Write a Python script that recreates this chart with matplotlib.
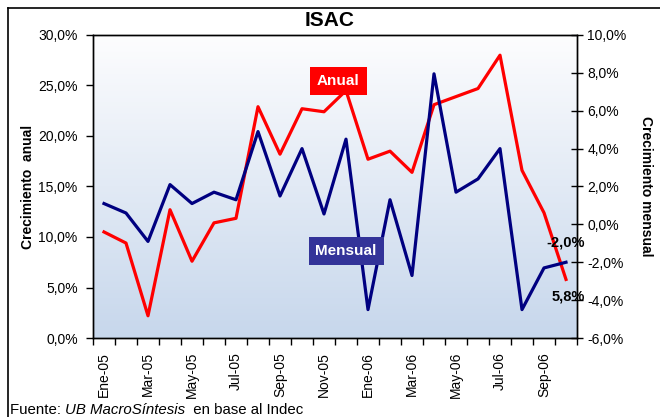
import numpy as np
import matplotlib.pyplot as plt
from matplotlib.ticker import FuncFormatter, FixedLocator
from matplotlib.lines import Line2D
from matplotlib.colors import LinearSegmentedColormap

plt.rcParams['font.family'] = ['Liberation Sans', 'DejaVu Sans']

# datos
meses = ['Ene-05', 'Feb-05', 'Mar-05', 'Abr-05', 'May-05', 'Jun-05', 'Jul-05', 'Ago-05',
         'Sep-05', 'Oct-05', 'Nov-05', 'Dic-05', 'Ene-06', 'Feb-06', 'Mar-06', 'Abr-06',
         'May-06', 'Jun-06', 'Jul-06', 'Ago-06', 'Sep-06', 'Oct-06']
anual = [10.5, 9.4, 2.2, 12.7, 7.6, 11.4, 11.85, 22.9, 18.2, 22.7, 22.4, 24.5,
         17.7, 18.5, 16.4, 23.1, 23.9, 24.7, 28.0, 16.6, 12.4, 5.8]
mensual = [1.1, 0.6, -0.9, 2.1, 1.1, 1.7, 1.3, 4.9, 1.5, 4.0, 0.55, 4.5,
           -4.5, 1.3, -2.7, 7.95, 1.7, 2.4, 4.0, -4.5, -2.3, -2.0]

x = np.arange(len(meses))

fig = plt.figure(figsize=(6.6, 4.17), dpi=100)
ax1 = fig.add_axes([93/660, 1-338/417, 484/660, 303/417])
ax2 = ax1.twinx()

# fondo degradado
grad = np.linspace(0, 1, 256).reshape(-1, 1)
cmap = LinearSegmentedColormap.from_list('fondo', ['#c7d7ec', '#fdfdfe'])
ax1.imshow(grad, cmap=cmap, aspect='auto', extent=[0, 1, 0, 1],
           transform=ax1.transAxes, origin='lower', zorder=0)

ax1.plot(x, anual, color='#ff0000', lw=2.3, zorder=3)
ax2.plot(x, mensual, color='#000080', lw=2.3, zorder=3)

ax1.set_xlim(-0.5, len(meses) - 0.5)
ax1.set_ylim(0, 30)
ax2.set_ylim(-6, 10)
ax1.set_yticks(np.arange(0, 31, 5))
ax2.set_yticks(np.arange(-6, 11, 2))

fmt = FuncFormatter(lambda v, p: f"{v:.1f}%".replace('.', ','))
ax1.yaxis.set_major_formatter(fmt)
ax2.yaxis.set_major_formatter(fmt)

# ticks en los limites de cada mes, etiquetas cada dos meses
ax1.xaxis.set_major_locator(FixedLocator(np.arange(-0.5, len(meses), 1)))
ax1.xaxis.set_major_formatter(FuncFormatter(lambda v, p: ''))
ax1.xaxis.set_minor_locator(FixedLocator(x[::2]))
ax1.set_xticklabels(meses[::2], minor=True, rotation=90)
ax1.tick_params(axis='x', which='major', direction='out', length=5, width=1)
ax1.tick_params(axis='x', which='minor', length=0, pad=10, labelsize=10)
ax1.tick_params(axis='y', direction='out', length=5, width=1, labelsize=10, pad=6)
ax2.tick_params(axis='y', direction='inout', length=9, width=1, labelsize=10, pad=3)

for ax in (ax1, ax2):
    for s in ax.spines.values():
        s.set_linewidth(1)
        s.set_color('black')

ax1.set_ylabel('Crecimiento  anual', fontsize=10, fontweight='bold', labelpad=2)
ax2.set_ylabel('Crecimiento mensual', fontsize=10, fontweight='bold',
               rotation=-90, labelpad=19)

fig.text(330/660, 1-20/417, 'ISAC', ha='center', va='center',
         fontsize=15, fontweight='bold')

# etiquetas de series
ax2.text(0.507, 0.848, 'Anual', transform=ax1.transAxes, ha='center', va='center',
         color='white', fontsize=11, fontweight='bold', zorder=5,
         bbox=dict(boxstyle='square,pad=0.45', fc='#ff0000', ec='none'))
ax2.text(0.523, 0.287, 'Mensual', transform=ax1.transAxes, ha='center', va='center',
         color='white', fontsize=11, fontweight='bold', zorder=5,
         bbox=dict(boxstyle='square,pad=0.45', fc='#333399', ec='none'))

# valores finales
ax2.annotate(f"{mensual[-1]:.1f}%".replace('.', ','), (x[-1], mensual[-1]),
             xytext=(0, 14), textcoords='offset points', ha='center', va='center',
             fontsize=10.5, fontweight='bold', zorder=6)
ax1.annotate(f"{anual[-1]:.1f}%".replace('.', ','), (x[-1], anual[-1]),
             xytext=(2, -12), textcoords='offset points', ha='center', va='center',
             fontsize=10.5, fontweight='bold', zorder=6)

# fuente
yb = 1 - 414/417
t1 = fig.text(10/660, yb, 'Fuente: ', fontsize=10.8, va='baseline')
t2 = fig.text(0, yb, 'UB MacroSíntesis', fontsize=10.8, style='italic', va='baseline')
t3 = fig.text(0, yb, '  en base al Indec', fontsize=10.8, va='baseline')
fig.canvas.draw()
r = fig.canvas.get_renderer()
bb = t1.get_window_extent(r)
t2.set_position((bb.x1/fig.bbox.width, yb))
bb = t2.get_window_extent(r)
t3.set_position((bb.x1/fig.bbox.width, yb))

# marco
fig.add_artist(Line2D([8/660, 8/660], [0, 1-8/417], color='black', lw=1.2))
fig.add_artist(Line2D([8/660, 1], [1-8/417, 1-8/417], color='black', lw=1.2))

fig.savefig('out.png', dpi=100)
